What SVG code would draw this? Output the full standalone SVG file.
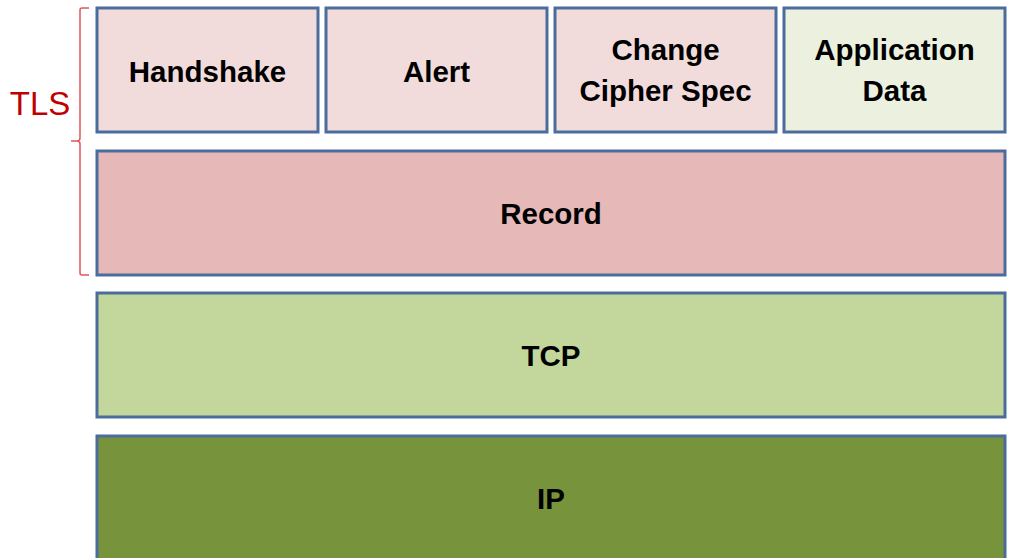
<svg xmlns="http://www.w3.org/2000/svg" width="1009" height="558" viewBox="0 0 1009 558">
  <style>
    .box { stroke: #4A6D9B; stroke-width: 3; }
    .lbl { font-family: "Liberation Sans", Arial, sans-serif; font-weight: bold; font-size: 29.5px; fill: #000; text-anchor: middle; }
    .tls { font-family: "Liberation Sans", Arial, sans-serif; font-size: 33px; fill: #C00000; text-anchor: middle; }
    .brace { fill: none; stroke: #E0575A; stroke-width: 1.5; }
  </style>
  <rect width="1009" height="558" fill="#FFFFFF"/>

  <!-- TLS bracket and label -->
  <g id="tls-bracket">
    <path class="brace" d="M89,8 L82,8 Q80,8 80,10 L80,138 Q80,141 77,141 L71,141 M77,141 Q80,141 80,144 L80,273 Q80,275 82,275 L89,275"/>
    <text class="tls" x="40" y="115">TLS</text>
  </g>

  <g id="handshake">
    <rect class="box" x="97" y="8" width="221" height="124" fill="#F2DCDB"/>
    <text class="lbl" x="207.5" y="82">Handshake</text>
  </g>
  <g id="alert">
    <rect class="box" x="326" y="8" width="221" height="124" fill="#F2DCDB"/>
    <text class="lbl" x="436.5" y="82">Alert</text>
  </g>
  <g id="change-cipher-spec">
    <rect class="box" x="555" y="8" width="221" height="124" fill="#F2DCDB"/>
    <text class="lbl" x="665.5" y="60">Change</text>
    <text class="lbl" x="665.5" y="101">Cipher Spec</text>
  </g>
  <g id="application-data">
    <rect class="box" x="784" y="8" width="221" height="124" fill="#EBF1DE"/>
    <text class="lbl" x="894.5" y="60">Application</text>
    <text class="lbl" x="894.5" y="101">Data</text>
  </g>
  <g id="record">
    <rect class="box" x="97" y="151" width="908" height="124" fill="#E6B9B8"/>
    <text class="lbl" x="551" y="224">Record</text>
  </g>
  <g id="tcp">
    <rect class="box" x="97" y="293" width="908" height="124" fill="#C3D69B"/>
    <text class="lbl" x="551" y="366">TCP</text>
  </g>
  <g id="ip">
    <rect class="box" x="97" y="436" width="908" height="130" fill="#77933C"/>
    <text class="lbl" x="551" y="509">IP</text>
  </g>

  <g id="connectors"></g>
</svg>
